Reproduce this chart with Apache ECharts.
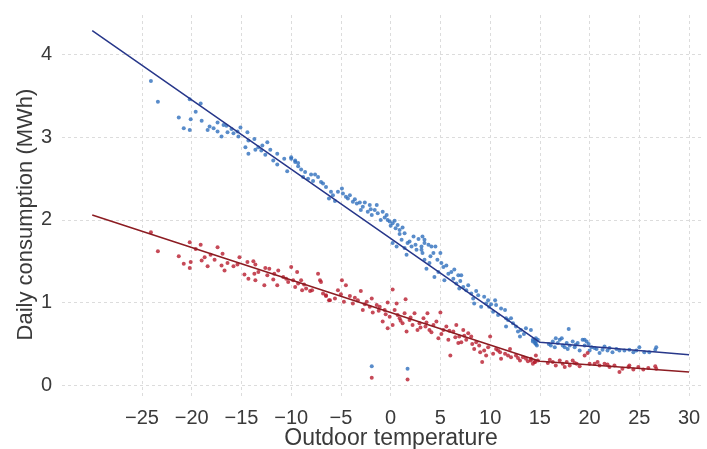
<!DOCTYPE html>
<html>
<head>
<meta charset="utf-8">
<script src="https://cdn.jsdelivr.net/npm/echarts@6/dist/echarts.min.js"></script>
<style>html,body{margin:0;padding:0;background:#fff}#c{width:707px;height:449px}</style>
</head>
<body>
<div id="c"></div>
<script>
// Blue scatter: [temperature, consumption]
var bluePoints = [
[-24.1,3.68],[-23.4,3.43],[-20.2,3.46],[-19.1,3.41],[-19.6,3.31],[-21.3,3.24],[-20.8,3.11],[-20.2,3.09],[-20.1,3.22],[-19.0,3.20],
[-18.2,3.13],[-18.4,3.09],[-17.8,3.11],[-17.4,3.18],[-17.4,3.07],[-17.0,3.01],[-16.8,3.15],[-16.5,3.14],[-16.4,3.06],[-15.4,3.07],
[-15.3,3.01],[-15.1,3.12],[-14.4,3.06],[-14.3,2.96],[-14.6,2.88],[-14.3,2.80],[-13.7,2.98],[-13.6,2.85],[-13.3,2.88],[-13.0,2.84],
[-12.4,2.94],[-12.6,2.79],[-12.1,2.85],[-11.4,2.80],[-11.4,2.67],[-10.7,2.74],[-10.4,2.59],[-10.0,2.74],[-9.6,2.72],[-9.3,2.65],
[-10.0,2.76],[-9.6,2.70],[-9.3,2.69],[-9.0,2.61],[-8.8,2.52],[-8.3,2.50],[-8.0,2.55],[-7.6,2.55],[-7.3,2.52],[-7.0,2.46],
[-6.5,2.40],[-6.2,2.26],[-6.0,2.34],[-5.6,2.23],[-5.3,2.34],[-4.9,2.38],[-4.8,2.32],[-4.5,2.28],[-4.1,2.30],[-3.8,2.22],
[-3.4,2.20],[-3.1,2.21],[-3.0,2.12],[-2.8,2.16],[-2.6,2.21],[-2.3,2.10],[-2.1,2.18],[-1.9,2.06],[-1.6,2.12],[-1.4,2.18],
[-1.3,2.08],[-1.0,2.00],[-0.8,2.10],[-0.4,2.06],[-0.3,2.00],[-0.1,1.98],[0.2,1.96],[0.4,1.99],[0.5,1.90],[0.7,1.94],
[0.9,1.88],[1.2,1.91],[1.4,1.84],[0.2,1.72],[0.6,1.68],[1.1,1.76],[1.4,1.66],[1.7,1.72],[2.1,1.68],[2.3,1.80],
[2.6,1.64],[2.8,1.77],[3.1,1.68],[3.2,1.60],[3.4,1.76],[1.6,1.58],
[-8.6,2.58],[-7.8,2.47],[-6.8,2.44],[-5.8,2.30],[-4.3,2.26],[-3.6,2.25],[-2.0,2.13],[-0.6,2.03],[0.0,1.93],[0.9,1.83],
[1.9,1.74],[2.5,1.70],[-11.8,2.72],[-12.9,2.90],[-15.8,3.05],[-16.0,3.10],
[3.2,1.80],[3.4,1.72],[3.1,1.64],[3.8,1.70],[4.1,1.68],[4.5,1.68],[4.3,1.60],[3.6,1.41],[3.4,1.52],[3.9,1.48],
[4.4,1.31],[4.8,1.37],[5.0,1.60],[5.1,1.48],[5.3,1.43],[5.4,1.27],[5.8,1.35],[6.1,1.37],[6.3,1.29],[6.6,1.23],
[6.8,1.33],[7.1,1.33],[6.9,1.17],[7.3,1.19],[7.6,1.15],[7.8,1.21],[8.1,1.11],[8.3,1.05],[8.4,0.99],[8.8,1.09],
[9.1,0.95],[9.4,1.07],[9.8,1.03],[9.9,0.95],[10.3,0.89],[10.5,1.03],[10.6,0.97],[10.8,0.85],[11.1,0.93],[11.5,0.91],
[11.6,0.81],[11.8,0.79],[12.1,0.81],[11.6,0.71],[12.6,0.71],[12.8,0.65],[13.0,0.59],[13.1,0.67],[13.6,0.69],[14.1,0.67],
[14.3,0.55],[14.5,0.51],[14.6,0.53],[14.7,0.48],[14.8,0.55],
[4.7,1.52],[5.6,1.45],[6.4,1.40],[7.0,1.26],[8.6,1.14],[9.6,0.99],[10.1,0.98],[12.3,0.75],[13.4,0.62],[4.0,1.56],
[14.5,0.55],[14.6,0.50],[14.3,0.53],[14.6,0.57],[17.9,0.68],[16.3,0.53],[16.5,0.46],[16.8,0.51],[17.0,0.55],[17.2,0.57],
[17.3,0.48],[17.7,0.51],[17.8,0.44],[18.0,0.48],[18.3,0.53],[18.5,0.46],[18.8,0.51],[19.0,0.42],[19.3,0.55],[19.5,0.48],
[19.7,0.53],[20.0,0.42],[20.2,0.46],[20.7,0.44],[21.0,0.39],[21.3,0.43],[21.8,0.42],[22.3,0.40],[22.7,0.44],[23.0,0.42],
[23.5,0.42],[24.0,0.43],[24.4,0.40],[25.0,0.46],[25.5,0.40],[26.0,0.40],[26.6,0.43],[26.7,0.46],[16.6,0.57],[19.5,0.55],
[20.5,0.45],[15.9,0.50],[18.6,0.49],[21.5,0.47],[16.1,0.48],[17.5,0.46],[19.9,0.50],[22.0,0.45],[24.7,0.42],
[-1.9,0.23],[1.7,0.20]
];
// Red scatter: [temperature, consumption]
var redPoints = [
[-24.1,1.85],[-23.4,1.62],[-20.2,1.73],[-19.1,1.70],[-19.6,1.65],[-21.3,1.56],[-20.8,1.47],[-20.2,1.42],[-20.1,1.49],[-19.0,1.51],
[-18.4,1.44],[-18.1,1.58],[-17.7,1.52],[-17.4,1.67],[-16.9,1.59],[-17.0,1.45],[-16.7,1.39],[-16.4,1.48],[-15.4,1.46],[-15.2,1.55],
[-14.7,1.34],[-14.4,1.49],[-14.3,1.29],[-13.8,1.50],[-13.6,1.46],[-13.7,1.35],[-13.6,1.27],[-13.3,1.37],[-12.7,1.21],[-12.6,1.42],
[-12.4,1.33],[-12.2,1.41],[-11.8,1.28],[-11.7,1.35],[-11.4,1.21],[-11.3,1.39],[-10.8,1.31],[-10.3,1.25],[-10.0,1.43],[-9.8,1.27],
[-9.6,1.19],[-9.4,1.37],[-9.3,1.23],[-9.0,1.27],[-8.9,1.15],[-8.5,1.17],[-8.1,1.14],[-7.9,1.15],[-7.3,1.35],[-7.1,1.27],
[-6.8,1.11],[-6.5,1.09],[-6.2,1.03],
[-7.0,1.25],[-6.5,1.08],[-6.1,1.03],[-5.6,1.05],[-5.3,1.15],[-4.9,1.27],[-4.7,1.01],[-4.5,1.21],[-4.1,1.08],[-3.8,0.99],
[-3.3,1.03],[-3.0,1.14],[-2.8,0.91],[-2.4,1.01],[-2.1,0.95],[-1.9,1.05],[-1.8,0.88],[-1.4,0.97],[-1.1,0.95],[-0.8,0.77],
[-0.6,0.91],[-0.3,1.00],[-0.3,0.69],[-0.1,0.83],[0.2,1.16],[0.2,0.73],[0.4,0.91],[0.6,0.99],[0.9,0.81],[1.2,0.75],
[1.4,0.87],[1.5,1.04],[1.6,0.65],[1.9,0.79],[2.2,0.73],[2.4,0.87],[2.7,0.67],[2.9,0.75],[3.3,0.81],[3.5,0.71],
[3.7,0.87],[3.9,0.67],[4.3,0.73],[4.6,0.77],[4.8,0.57],[5.0,0.88],[5.3,0.67],[5.6,0.71],[5.8,0.55],[6.0,0.36],
[6.3,0.65],[6.6,0.73],[6.8,0.51],[6.9,0.59],[7.3,0.67],[7.6,0.55],[7.8,0.63],[8.1,0.59],[8.4,0.44],[8.6,0.52],
[8.9,0.48],[9.2,0.28],[9.4,0.42],[9.8,0.46],[10.0,0.59],[10.3,0.38],[10.6,0.44],[11.0,0.40],[11.1,0.32],[11.5,0.38],
[12.0,0.44],[12.1,0.34],[12.6,0.36],[13.0,0.30],[13.3,0.34],[13.6,0.32],[14.1,0.30],[14.5,0.28],
[-5.0,1.10],[-3.6,1.06],[-2.6,0.98],[-1.2,0.90],[-0.5,0.86],[0.7,0.85],[1.0,0.78],[2.0,0.82],[3.0,0.70],[3.6,0.76],
[4.1,0.64],[5.1,0.62],[5.9,0.66],[6.5,0.58],[7.1,0.52],[7.4,0.60],[8.2,0.50],[9.0,0.40],[9.6,0.36],[10.8,0.42],
[11.8,0.36],[12.8,0.33],[13.8,0.29],[-8.7,1.22],[-10.5,1.29],[-15.8,1.44],[-18.7,1.55],
[14.1,0.32],[14.5,0.28],[14.8,0.30],[14.6,0.36],[14.3,0.26],[16.3,0.28],[16.6,0.24],[17.0,0.30],[17.3,0.26],[17.7,0.28],
[18.0,0.24],[18.3,0.30],[18.7,0.26],[19.0,0.23],[19.5,0.36],[19.8,0.39],[20.0,0.26],[20.5,0.26],[21.0,0.24],[21.5,0.26],
[22.0,0.22],[22.5,0.24],[23.0,0.16],[23.3,0.20],[23.9,0.22],[24.4,0.19],[24.9,0.22],[25.4,0.19],[25.9,0.21],[26.6,0.23],
[26.7,0.20],[15.8,0.27],[17.5,0.22],[20.8,0.28],[16.0,0.31],[18.5,0.27],[21.8,0.25],[24.0,0.24],
[-1.9,0.09],[1.7,0.07]
];
// Fitted piecewise lines
var blueFit = [[-30,4.29],[15,0.52],[30,0.37]];
var redFit = [[-30,2.06],[15,0.29],[30,0.16]];
// Tick labels
var xTicks = [-25,-20,-15,-10,-5,0,5,10,15,20,25,30];
var yTicks = [0,1,2,3,4];

var FONT = 'Liberation Sans, Arial, sans-serif';
var chart = echarts.init(document.getElementById('c'));
chart.setOption({
  animation: false,
  backgroundColor: '#fff',
  grid: {left: 62, right: 5, top: 15, bottom: 53, outerBoundsMode: 'none', containLabel: false},
  xAxis: {
    type: 'value', min: -33.04, max: 31.3,
    name: 'Outdoor temperature', nameLocation: 'middle', nameGap: 31, nameMoveOverlap: false,
    nameTextStyle: {fontFamily: FONT, fontSize: 23, color: '#3a3a3a', padding: [0, 0, 0, 18]},
    axisLine: {show: false}, axisTick: {show: false, customValues: xTicks},
    axisLabel: {customValues: xTicks, fontFamily: FONT, fontSize: 20, color: '#3a3a3a', margin: 12,
      formatter: function (v) { return String(v).replace('-', '\u2212'); }},
    splitLine: {show: true, lineStyle: {color: '#dcdcdc', type: [3, 3], width: 1}}
  },
  yAxis: {
    type: 'value', min: -0.13, max: 4.48,
    name: 'Daily consumption (MWh)', nameLocation: 'middle', nameGap: 25, nameMoveOverlap: false,
    nameTextStyle: {fontFamily: FONT, fontSize: 22, color: '#3a3a3a', padding: [0, 18, 0, 0]},
    axisLine: {show: false}, axisTick: {show: false, customValues: yTicks},
    axisLabel: {customValues: yTicks, fontFamily: FONT, fontSize: 20, color: '#3a3a3a', margin: 10},
    splitLine: {show: true, lineStyle: {color: '#dcdcdc', type: [3, 3], width: 1}}
  },
  series: [
    {type: 'scatter', data: bluePoints, symbolSize: 4, itemStyle: {color: '#2f6fbd'}},
    {type: 'scatter', data: redPoints, symbolSize: 4, itemStyle: {color: '#b81d2e'}},
    {type: 'line', data: blueFit, symbol: 'none', lineStyle: {color: '#27378a', width: 1.5}},
    {type: 'line', data: redFit, symbol: 'none', lineStyle: {color: '#8c1c22', width: 1.5}}
  ]
});
</script>
</body>
</html>
